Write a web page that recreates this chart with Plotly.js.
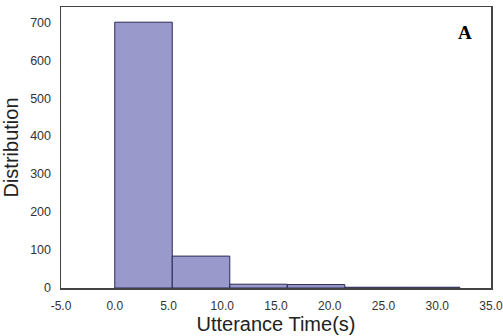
<!DOCTYPE html>
<html><head><meta charset="utf-8">
<script src="https://cdn.plot.ly/plotly-3.0.1.min.js"></script>
<style>html,body{margin:0;padding:0;background:#fff}#chart{width:503px;height:336px}</style>
</head><body><div id="chart"></div>
<script>
const binEdges = [0, 5.35, 10.7, 16.05, 21.4, 26.75, 32.1];
const counts = [700, 84, 10, 9, 2, 2];
const xTicks = [-5, 0, 5, 10, 15, 20, 25, 30, 35];
const yTicks = [0, 100, 200, 300, 400, 500, 600, 700];

const centers = counts.map((c, i) => (binEdges[i] + binEdges[i + 1]) / 2);
const widths = counts.map((c, i) => binEdges[i + 1] - binEdges[i]);

const trace = {
  type: 'bar', x: centers, y: counts, width: widths,
  marker: {color: '#9999cc', line: {color: '#2a2a55', width: 1}},
  hoverinfo: 'x+y', cliponaxis: false
};
const layout = {
  width: 503, height: 336,
  margin: {l: 61, r: 12, t: 7, b: 48},
  paper_bgcolor: '#fff', plot_bgcolor: '#fff',
  showlegend: false,
  font: {family: 'Arial, Liberation Sans, sans-serif', color: '#333'},
  xaxis: {
    range: [-5, 35.001], tickvals: xTicks, ticktext: xTicks.map(v => v.toFixed(1)),
    showgrid: false, zeroline: false, showline: true, mirror: true,
    linecolor: '#444', linewidth: 1.5, ticks: 'outside', ticklen: 6, tickcolor: 'rgba(0,0,0,0)',
    tickfont: {size: 12, color: '#333'}, automargin: false, ticklabeloverflow: 'allow',
    title: {text: 'Utterance Time(s)', font: {size: 20, color: '#222'}, standoff: 3}
  },
  yaxis: {
    range: [0, 740], tickvals: yTicks,
    showgrid: false, zeroline: false, showline: true, mirror: true,
    linecolor: '#444', linewidth: 1.5, ticks: 'outside', ticklen: 6, tickcolor: 'rgba(0,0,0,0)',
    tickfont: {size: 12.5, color: '#333'}, automargin: false,
    title: {text: 'Distribution', font: {size: 20, color: '#222'}, standoff: 6}
  },
  annotations: [{
    text: '<b>A</b>', xref: 'paper', yref: 'paper', x: 0.94, y: 0.91,
    xanchor: 'center', yanchor: 'middle', showarrow: false,
    font: {family: 'Liberation Serif, DejaVu Serif, serif', size: 19, color: '#000'}
  }],
  bargap: 0
};
Plotly.newPlot('chart', [trace], layout, {displayModeBar: false, staticPlot: true});
</script></body></html>
